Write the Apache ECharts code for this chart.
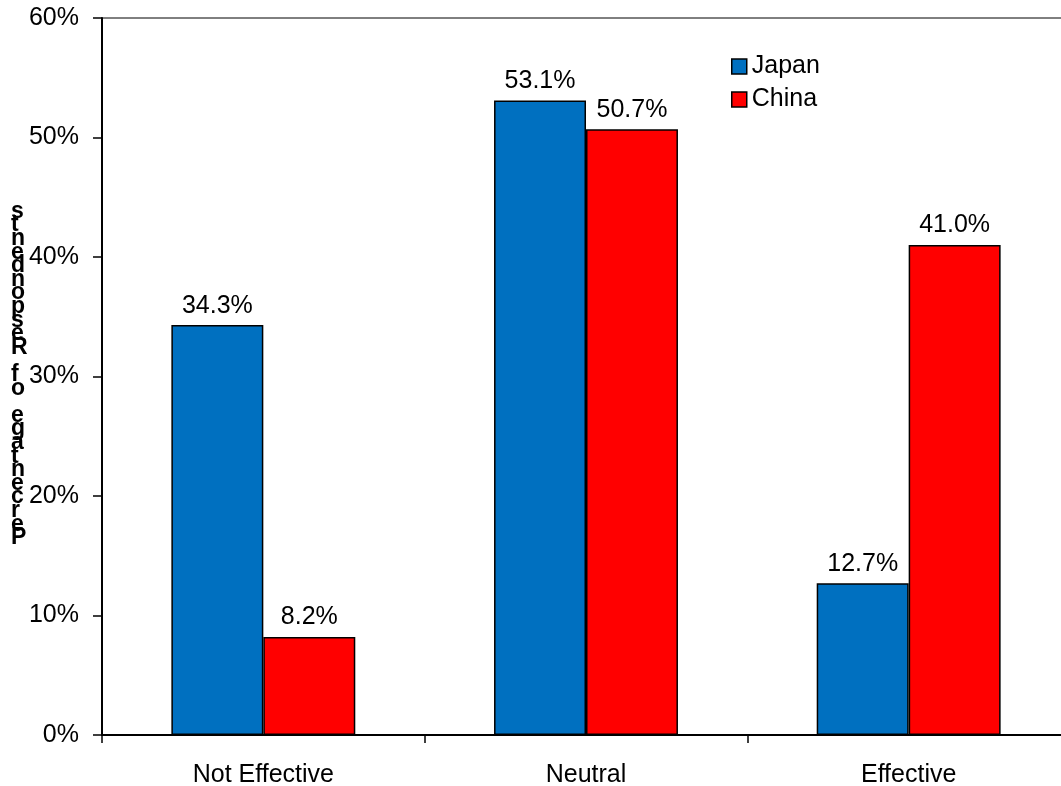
<!DOCTYPE html>
<html><head><meta charset="utf-8">
<script src="https://cdn.jsdelivr.net/npm/echarts@6/dist/echarts.min.js"></script>
<style>html,body{margin:0;padding:0;background:#fff}#c{width:1061px;height:786px}</style>
</head><body><div id="c"></div>
<script>
const categories = ['Not Effective', 'Neutral', 'Effective'];
const japan = [34.3, 53.1, 12.7];
const china = [8.2, 50.7, 41.0];
const yTitle = 'Percentage of Respondents';

const font = 'Liberation Sans, Arial, sans-serif';
const chart = echarts.init(document.getElementById('c'));
const lbl = {show: true, position: 'top', distance: 7, color: '#000', fontFamily: font, fontSize: 25,
  formatter: p => p.value.toFixed(1) + '%'};
chart.setOption({
  animation: false,
  grid: {left: 102, width: 968, top: 18, bottom: 51, outerBoundsMode: 'none', containLabel: false,
    show: true, borderColor: '#000', borderWidth: 1},
  legend: {orient: 'vertical', left: 731, top: 54, padding: 0, itemWidth: 15, itemHeight: 15, itemGap: 8,
    textStyle: {fontFamily: font, fontSize: 25, color: '#000', padding: [0,0,0,0]},
    itemStyle: {borderColor: '#000', borderWidth: 1.5},
    data: [{name: 'Japan', icon: 'rect'}, {name: 'China', icon: 'rect'}]},
  xAxis: {type: 'category', data: categories,
    axisLine: {lineStyle: {color: '#000', width: 2}},
    axisTick: {show: true, length: 8, lineStyle: {color: '#000', width: 1.5}},
    axisLabel: {color: '#000', fontFamily: font, fontSize: 25, margin: 28}},
  yAxis: {type: 'value', min: 0, max: 60, interval: 10,
    axisLine: {show: true, lineStyle: {color: '#000', width: 2}},
    axisTick: {show: true, length: 9, lineStyle: {color: '#000', width: 1.5}},
    splitLine: {show: false},
    axisLabel: {color: '#000', fontFamily: font, fontSize: 25, margin: 23, formatter: '{value}%'}},
  graphic: [{type: 'text', left: 11, top: 200,
    style: {text: yTitle.split('').reverse().join('\n'), fontFamily: font, fontWeight: 'bold',
      fontSize: 23, lineHeight: 13.6, fill: '#000', align: 'left'}}],
  series: [
    {name: 'Japan', type: 'bar', data: japan, barGap: '0%', barCategoryGap: '43%',
      itemStyle: {color: '#0070C0', borderColor: '#000', borderWidth: 1.5}, label: lbl},
    {name: 'China', type: 'bar', data: china,
      itemStyle: {color: '#FF0000', borderColor: '#000', borderWidth: 1.5}, label: lbl}
  ]
});
</script></body></html>
